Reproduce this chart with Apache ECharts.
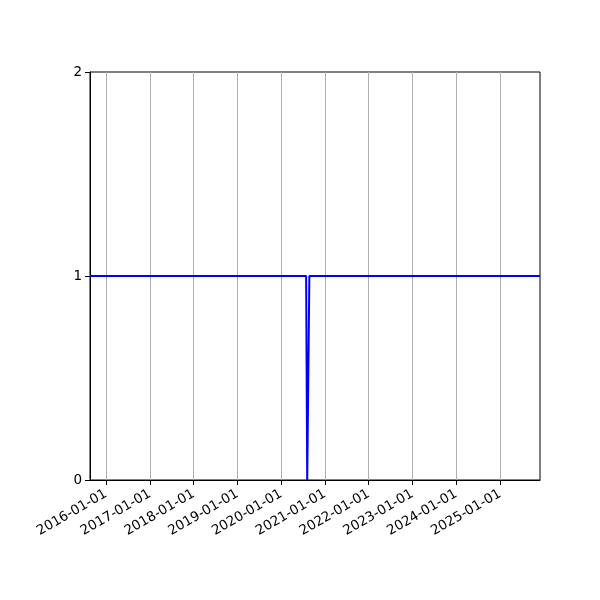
<!DOCTYPE html>
<html>
<head>
<meta charset="utf-8">
<script src="https://cdn.jsdelivr.net/npm/echarts@6/dist/echarts.min.js"></script>
<style>html,body{margin:0;padding:0;background:#fff;}#c{width:600px;height:600px;}</style>
</head>
<body>
<div id="c"></div>
<script>
var dates = ['2015-08-21', '2020-07-28', '2020-08-06', '2020-08-14', '2020-08-24', '2025-11-30'];
var values = [1, 1, 0, 0, 1, 1];
var xTickLabels = ['2016-01-01','2017-01-01','2018-01-01','2019-01-01','2020-01-01','2021-01-01','2022-01-01','2023-01-01','2024-01-01','2025-01-01'];
var yTicks = [0, 1, 2];
var xMin = '2015-08-21', xMax = '2025-11-30';

function ts(s) { var p = s.split('-'); return Date.UTC(+p[0], +p[1] - 1, +p[2]); }
function fmt(v) {
  var d = new Date(v);
  var m = d.getUTCMonth() + 1, dd = d.getUTCDate();
  return d.getUTCFullYear() + '-' + (m < 10 ? '0' : '') + m + '-' + (dd < 10 ? '0' : '') + dd;
}
var tickVals = xTickLabels.map(ts);
var seriesData = dates.map(function (d, i) { return [ts(d), values[i]]; });

var chart = echarts.init(document.getElementById('c'), null, { renderer: 'canvas' });
chart.setOption({
  animation: false,
  backgroundColor: '#fff',
  grid: { left: 90, right: 60, top: 72, bottom: 120, show: true, borderColor: '#000', borderWidth: 1, backgroundColor: 'transparent' },
  xAxis: {
    type: 'value',
    min: ts(xMin), max: ts(xMax),
    axisLine: { show: true, onZero: false, lineStyle: { color: '#000', width: 1 } },
    axisTick: { show: true, inside: false, length: 5, lineStyle: { color: '#000' }, customValues: tickVals },
    axisLabel: { show: true, rotate: 30, color: '#000', fontSize: 13.5, fontFamily: 'DejaVu Sans', margin: 13, customValues: tickVals, formatter: function (v) { return fmt(v); } },
    splitLine: { show: false }
  },
  yAxis: {
    type: 'value',
    min: yTicks[0], max: yTicks[yTicks.length - 1], interval: 1,
    axisLine: { show: true, lineStyle: { color: '#000', width: 1 } },
    axisTick: { show: true, inside: false, length: 5, lineStyle: { color: '#000' } },
    axisLabel: { color: '#000', fontSize: 13.5, fontFamily: 'DejaVu Sans', margin: 8 },
    splitLine: { show: false }
  },
  series: [{
    type: 'line',
    data: seriesData,
    symbol: 'none',
    lineStyle: { color: '#0000ff', width: 2 },
    z: 3,
    markLine: {
      silent: true,
      symbol: ['none', 'none'],
      label: { show: false },
      lineStyle: { color: '#b0b0b0', width: 1, type: 'solid' },
      z: 1,
      data: tickVals.map(function (v) { return { xAxis: v }; })
    }
  }]
});
</script>
</body>
</html>
